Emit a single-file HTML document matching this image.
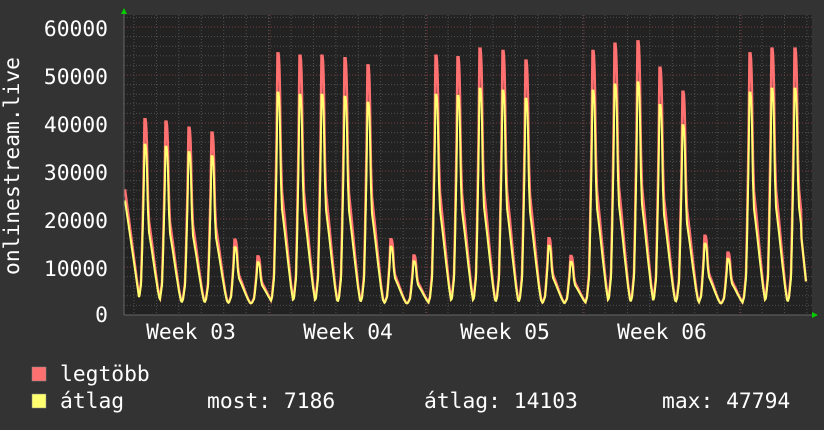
<!DOCTYPE html>
<html><head><meta charset="utf-8"><style>
body{margin:0;background:#333333;width:824px;height:430px;overflow:hidden}
svg{display:block}
text{font-family:"DejaVu Sans Mono","Liberation Mono",monospace;fill:#ffffff;font-size:21.3px}
</style></head><body>
<svg id="s" width="824" height="430" xmlns="http://www.w3.org/2000/svg">
<rect x="0" y="0" width="824" height="430" fill="#333333"/>
<rect x="124" y="15" width="688" height="300" fill="#222222"/>
<g id="grid"></g>
<path id="red" fill="none" stroke="#ff7070" stroke-width="2.5"/>
<path id="yel" fill="none" stroke="#ffff70" stroke-width="2"/>
<line x1="124" y1="315" x2="816" y2="315" stroke="#666" stroke-width="1"/>
<line x1="124" y1="315" x2="124" y2="10" stroke="#666" stroke-width="1"/>
<polygon points="121,14 127,14 124,8" fill="#00cc00"/>
<polygon points="812,312 812,318 818,315" fill="#00cc00"/>
<g text-anchor="end">
<text x="108" y="36">60000</text><text x="108" y="84">50000</text><text x="108" y="132">40000</text>
<text x="108" y="180">30000</text><text x="108" y="228">20000</text><text x="108" y="276">10000</text>
<text x="108" y="322">0</text></g>
<g text-anchor="middle">
<text x="191" y="339">Week 03</text><text x="348" y="339">Week 04</text>
<text x="505" y="339">Week 05</text><text x="662" y="339">Week 06</text></g>
<text transform="translate(19,166) rotate(-90)" text-anchor="middle">onlinestream.live</text>
<rect x="32" y="367" width="14" height="14" fill="#ff7070" stroke="#888" stroke-width="0.5"/>
<rect x="32" y="394" width="14" height="14" fill="#ffff70" stroke="#888" stroke-width="0.5"/>
<text x="60" y="381">legtöbb</text>
<text x="60" y="408">átlag</text>
<text x="207" y="408">most: 7186</text>
<text x="424" y="408">átlag: 14103</text>
<text x="662" y="408">max: 47794</text>
</svg>
<script>
var g=document.getElementById('grid'),h='';
for(var v=2000;v<=62000;v+=2000){var y=315-v*0.0048;var maj=v%10000==0;
h+='<line x1="124" x2="812" y1="'+y+'" y2="'+y+'" stroke="'+(maj?'#7a3c3c':'#505050')+'" stroke-dasharray="1,2"/>';}
for(var x=134;x<812;x+=22.43){
h+='<line y1="15" y2="315" x1="'+x+'" x2="'+x+'" stroke="#505050" stroke-dasharray="1,2"/>';}
[270,427,584,741].forEach(function(x){h+='<line y1="15" y2="318" x1="'+x+'" x2="'+x+'" stroke="#7a3c3c" stroke-dasharray="1,2"/>';});
g.innerHTML=h;
var px=[145,166,189,212,235,258,278,300,322,345,368,391,414,436,458,480,503,526,549,571,593,615,638,660,683,705,728,750,772,795,817];
var rp=[40800,40300,39000,38000,15700,12200,54500,54000,54000,53500,52000,15800,12400,54000,53700,55500,55000,53000,16000,12300,55000,56500,57000,51500,46500,16500,13000,54500,55500,55500,50000];
var K=[[-8,0],[-6,0.03],[-4,0.12],[-3,0.3],[-1.5,0.65],[-0.5,1],[0.8,1],[1.8,0.9],[2.8,0.6],[4,0.45],[7,0.33],[10,0.2],[13,0.08],[15,0.02],[17,0]];
function shape(d){if(d<=K[0][0]||d>=K[K.length-1][0])return 0;for(var i=1;i<K.length;i++){if(d<=K[i][0]){var a=K[i-1],b=K[i];return a[1]+(b[1]-a[1])*(d-a[0])/(b[0]-a[0]);}}return 0;}
function val(x,yel){var b=2300,s=0;for(var i=0;i<px.length;i++){var d=x-px[i];var p=rp[i];
if(yel){p=(p<20000)?p*0.9:p*(i<6?0.87:0.85);}
s=Math.max(s,(p-b)*shape(d));}
if(x<140){s=Math.max(s,(yel?23000:25500)*Math.max(0,1-(x-124)/16));}
var v=b+s;
if(x>801){v=Math.min(v,7000+(806-x)*2000);}
return v;}
function path(yel){var d='';for(var x=125;x<=806;x+=0.5){var v=val(x,yel);d+=(x==125?'M':'L')+x+','+(315-v*0.0048).toFixed(1);}return d;}
document.getElementById('red').setAttribute('d',path(false));
document.getElementById('yel').setAttribute('d',path(true));
</script>
</body></html>
